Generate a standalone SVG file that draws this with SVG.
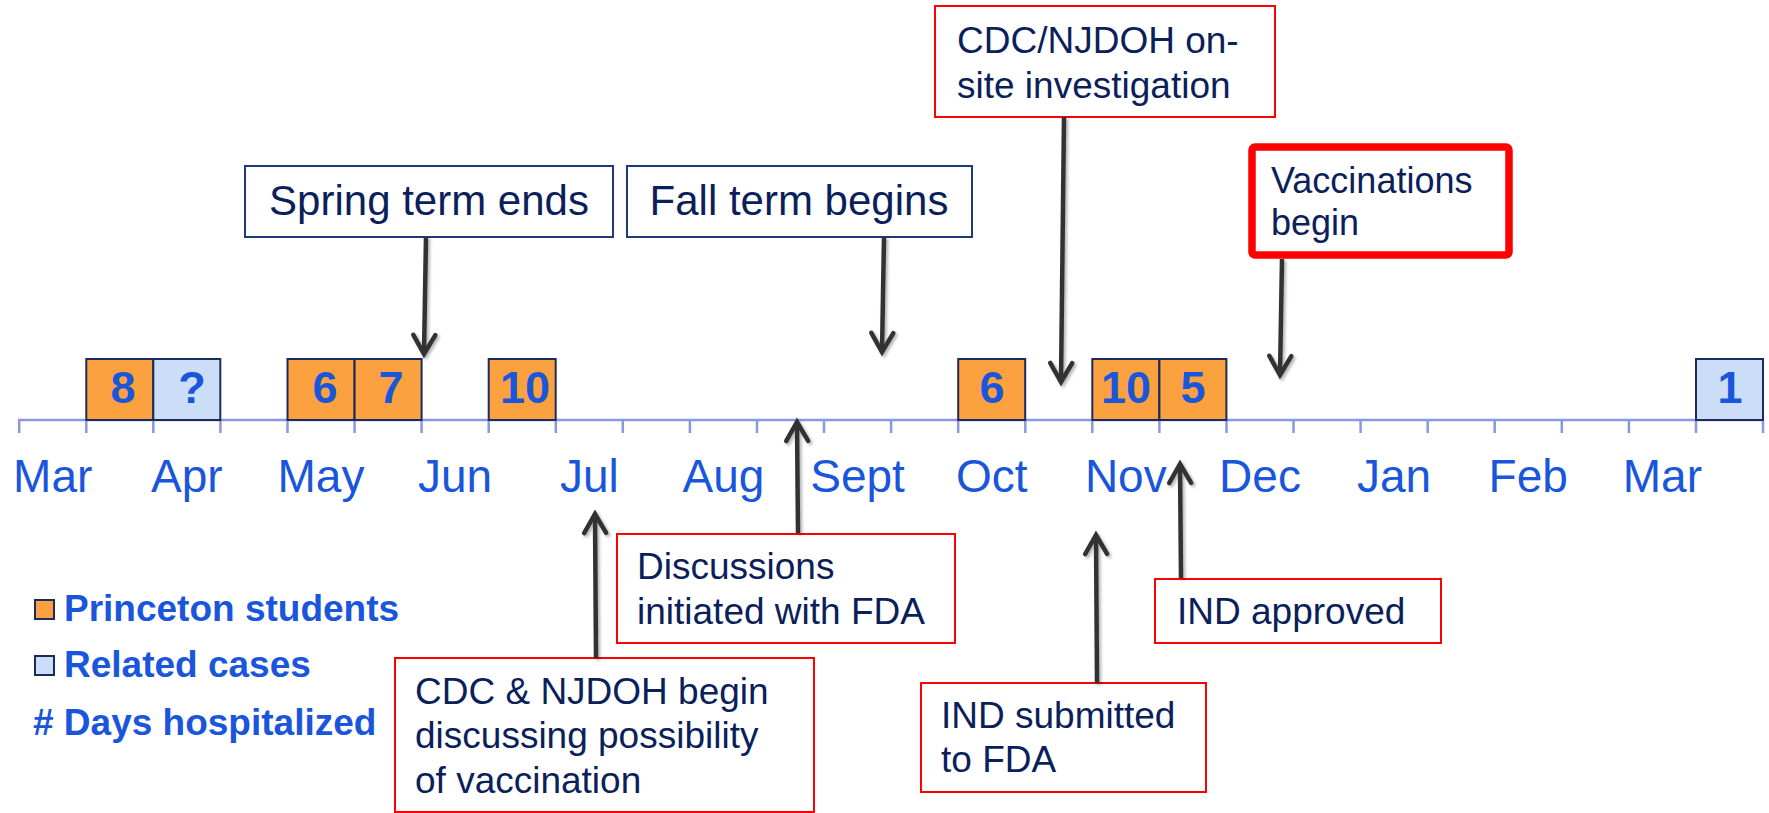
<svg xmlns="http://www.w3.org/2000/svg" width="1769" height="813" viewBox="0 0 1769 813">
<style>
.bg{fill:#ffffff}
.month{font-family:"Liberation Sans",Arial,sans-serif;font-size:46px;fill:#1A56DB;text-anchor:middle}
.num{font-family:"Liberation Sans",Arial,sans-serif;font-size:45px;font-weight:bold;fill:#1A56DB;text-anchor:middle}
.case{stroke:#1B2B5E;stroke-width:2}
.stu{fill:#FBA140}
.rel{fill:#CCDDF8}
.axis{stroke:#8B98E0;stroke-width:2.5;fill:none}
.navybox{fill:#ffffff;stroke:#1F3A78;stroke-width:2}
.redbox{fill:#ffffff;stroke:#FF0000;stroke-width:2}
.bigred{fill:#ffffff;stroke:#FF0000;stroke-width:7.5}
.lbl{font-family:"Liberation Sans",Arial,sans-serif;font-size:37px;fill:#0B1F5B}
.lbl42{font-family:"Liberation Sans",Arial,sans-serif;font-size:42px;fill:#0B1F5B;text-anchor:middle}
.leg{font-family:"Liberation Sans",Arial,sans-serif;font-size:37px;font-weight:bold;fill:#1A56DB}
.conn line{stroke:#333333;stroke-width:4.5;fill:none;marker-end:url(#arr)}
</style>
<defs>
<marker id="arr" markerUnits="userSpaceOnUse" viewBox="-24 -16 30 32" markerWidth="30" markerHeight="32" refX="0" refY="0" orient="auto">
<path d="M -19 -11 L 0 0 L -19 11" fill="none" stroke="#333333" stroke-width="4.5" stroke-linecap="round" stroke-linejoin="miter"/>
</marker>
<filter id="sh" x="-50%" y="-10%" width="200%" height="120%">
<feDropShadow dx="2" dy="2" stdDeviation="1.5" flood-color="#000" flood-opacity="0.3"/>
</filter>
</defs>
<rect class="bg" x="0" y="0" width="1769" height="813"/>

<g id="axis">
<line class="axis" x1="18" y1="420" x2="1764" y2="420"/>
<path class="axis" d="M19.2 420V433 M86.3 420V433 M153.3 420V433 M220.4 420V433 M287.5 420V433 M354.6 420V433 M421.6 420V433 M488.7 420V433 M555.8 420V433 M622.8 420V433 M689.9 420V433 M757 420V433 M824 420V433 M891.1 420V433 M958.2 420V433 M1025.3 420V433 M1092.3 420V433 M1159.4 420V433 M1226.5 420V433 M1293.5 420V433 M1360.6 420V433 M1427.7 420V433 M1494.7 420V433 M1561.8 420V433 M1628.9 420V433 M1696 420V433 M1763 420V433"/>
</g>

<g id="months">
<text class="month" x="52.7" y="492">Mar</text>
<text class="month" x="186.9" y="492">Apr</text>
<text class="month" x="321" y="492">May</text>
<text class="month" x="455.1" y="492">Jun</text>
<text class="month" x="589.3" y="492">Jul</text>
<text class="month" x="723.4" y="492">Aug</text>
<text class="month" x="857.6" y="492">Sept</text>
<text class="month" x="991.7" y="492">Oct</text>
<text class="month" x="1125.8" y="492">Nov</text>
<text class="month" x="1260" y="492">Dec</text>
<text class="month" x="1394.1" y="492">Jan</text>
<text class="month" x="1528.2" y="492">Feb</text>
<text class="month" x="1662.4" y="492">Mar</text>
</g>

<g id="case1"><rect class="case stu" x="86.3" y="359" width="67" height="61"/><text class="num" x="123" y="403">8</text></g>
<g id="case2"><rect class="case rel" x="153.3" y="359" width="67" height="61"/><text class="num" x="192" y="403">?</text></g>
<g id="case3"><rect class="case stu" x="287.5" y="359" width="67" height="61"/><text class="num" x="325" y="403">6</text></g>
<g id="case4"><rect class="case stu" x="354.6" y="359" width="67" height="61"/><text class="num" x="391" y="403">7</text></g>
<g id="case5"><rect class="case stu" x="488.7" y="359" width="67" height="61"/><text class="num" x="525" y="403">10</text></g>
<g id="case6"><rect class="case stu" x="958.2" y="359" width="67" height="61"/><text class="num" x="992" y="403">6</text></g>
<g id="case7"><rect class="case stu" x="1092.3" y="359" width="67" height="61"/><text class="num" x="1126" y="403">10</text></g>
<g id="case8"><rect class="case stu" x="1159.4" y="359" width="67" height="61"/><text class="num" x="1193" y="403">5</text></g>
<g id="case9"><rect class="case rel" x="1696" y="359" width="67" height="61"/><text class="num" x="1730" y="403">1</text></g>

<g id="spring-term">
<rect class="navybox" x="245" y="166" width="368" height="71"/>
<text class="lbl42" x="429" y="215">Spring term ends</text>
</g>
<g id="fall-term">
<rect class="navybox" x="627" y="166" width="345" height="71"/>
<text class="lbl42" x="799" y="215">Fall term begins</text>
</g>
<g id="onsite">
<rect class="redbox" x="935" y="6" width="340" height="111"/>
<text class="lbl" x="957" y="53">CDC/NJDOH on-</text>
<text class="lbl" x="957" y="98">site investigation</text>
</g>
<g id="vaccinations">
<rect class="bigred" x="1252" y="147" width="257" height="108" rx="3"/>
<text class="lbl" x="1271" y="193" style="font-size:36px">Vaccinations</text>
<text class="lbl" x="1271" y="235" style="font-size:36px">begin</text>
</g>
<g id="discussions">
<rect class="redbox" x="617" y="534" width="338" height="109"/>
<text class="lbl" x="637" y="579">Discussions</text>
<text class="lbl" x="637" y="624">initiated with FDA</text>
</g>
<g id="cdc-begin">
<rect class="redbox" x="395" y="658" width="419" height="154"/>
<text class="lbl" x="415" y="704">CDC &amp; NJDOH begin</text>
<text class="lbl" x="415" y="748">discussing possibility</text>
<text class="lbl" x="415" y="793">of vaccination</text>
</g>
<g id="ind-submitted">
<rect class="redbox" x="921" y="683" width="285" height="109"/>
<text class="lbl" x="941" y="728">IND submitted</text>
<text class="lbl" x="941" y="772">to FDA</text>
</g>
<g id="ind-approved">
<rect class="redbox" x="1155" y="579" width="286" height="64"/>
<text class="lbl" x="1177" y="624">IND approved</text>
</g>

<g id="legend">
<rect class="case stu" x="35" y="600" width="19" height="19"/>
<text class="leg" x="64" y="621">Princeton students</text>
<rect class="case rel" x="35" y="656" width="19" height="19"/>
<text class="leg" x="64" y="677">Related cases</text>
<text class="leg" x="33" y="735"># Days hospitalized</text>
</g>

<g id="connectors" class="conn" filter="url(#sh)">
<line x1="426" y1="237" x2="424" y2="354"/>
<line x1="884" y1="237" x2="882" y2="352"/>
<line x1="1064" y1="117" x2="1061" y2="382"/>
<line x1="1282" y1="259" x2="1280" y2="375"/>
<line x1="596" y1="658" x2="595" y2="514"/>
<line x1="798" y1="533" x2="797" y2="422"/>
<line x1="1097" y1="683" x2="1096" y2="535"/>
<line x1="1181" y1="578" x2="1180" y2="464"/>
</g>
</svg>
